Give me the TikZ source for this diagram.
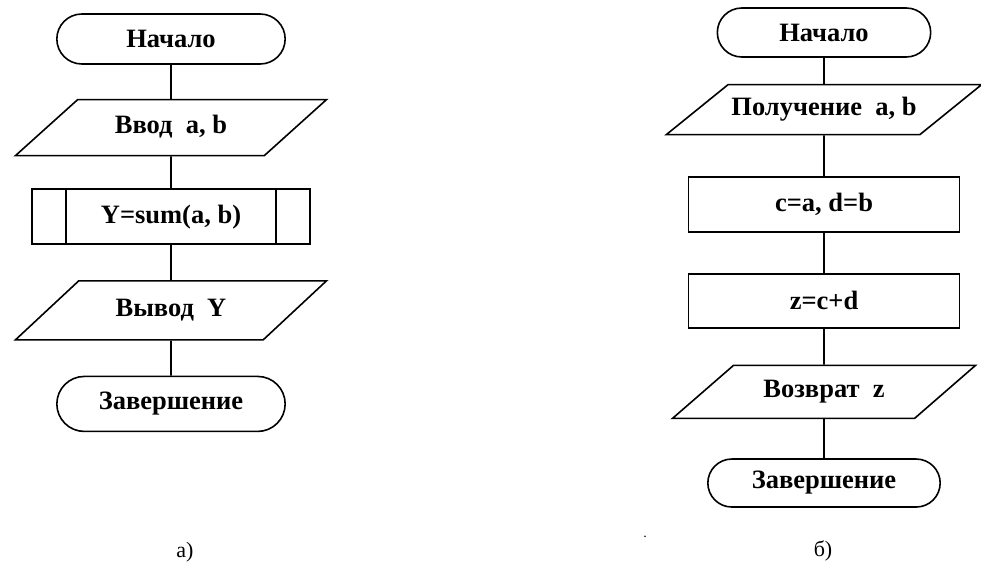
\documentclass[tikz,border=0pt]{standalone}
\usepackage{fontspec}
\setmainfont{Liberation Serif}[BoldFont={Liberation Serif Bold}]
\usetikzlibrary{positioning, shapes.geometric, shapes.misc}

\begin{document}
\begin{tikzpicture}[
  x=1pt, y=1pt, line width=1.6pt,
  term/.style={draw, rounded rectangle, minimum width=235pt, minimum height=50pt, font=\fontsize{26.5}{30}\selectfont\bfseries},
  io/.style={draw, trapezium, trapezium stretches body, trapezium left angle=42, trapezium right angle=138,
    text height=18pt, text depth=6pt, inner ysep=16pt, minimum width=311pt, font=\fontsize{26.5}{30}\selectfont\bfseries},
  proc/.style={draw, rectangle, minimum width=271pt, minimum height=55pt, font=\fontsize{26.5}{30}\selectfont\bfseries},
  subr/.style={proc, minimum width=278pt, path picture={
      \draw ([xshift=34pt]path picture bounding box.north west) -- ([xshift=34pt]path picture bounding box.south west);
      \draw ([xshift=-34pt]path picture bounding box.north east) -- ([xshift=-34pt]path picture bounding box.south east);}},
  lbl/.style={font=\fontsize{22}{26}\selectfont}
]
\useasboundingbox (0,0) rectangle (981,-562);

% а) main program
\node[term] (q1) at (171,-39) {Начало};
\node[io, below=34pt of q1]   (in1)  {Ввод~~a, b};
\node[subr, below=32pt of in1] (sum1) {Y=sum(a, b)};
\node[io, below=35pt of sum1, inner ysep=17.5pt, trapezium left angle=43, trapezium right angle=137] (out1) {Вывод~~Y};
\node[term, below=35pt of out1, minimum height=55pt] (end1) {Завершение};

\draw (q1)   -- (in1);
\draw (in1)  -- (sum1);
\draw (sum1) -- (out1);
\draw (out1) -- (end1);

% б) function sum
\node[term, minimum width=220pt, minimum height=49pt] (q2) at (824,-32.5) {Начало};
\node[io, below=26pt of q2, minimum width=308pt, inner ysep=13pt, trapezium left angle=39, trapezium right angle=141] (in2) {Получение~~a, b};
\node[proc, below=41pt of in2] (cd2) {c=a, d=b};
\node[proc, below=40pt of cd2, minimum height=54pt] (z2) {z=c+d};
\node[io, below=36pt of z2, minimum width=303pt, inner ysep=14.5pt, trapezium left angle=41, trapezium right angle=139] (ret2) {Возврат~~z};
\node[term, below=39pt of ret2, minimum width=239pt, minimum height=48pt] (end2) {Завершение};

\draw (q2)  -- (in2);
\draw (in2) -- (cd2);
\draw (cd2) -- (z2);
\draw (z2)  -- (ret2);
\draw (ret2) -- (end2);

\node[lbl] (la) at (185,-552) {а)};
\node[lbl] (lb) at (823,-551) {б)};
\node[font=\fontsize{14}{16}\selectfont, anchor=base] (dot) at (645,-537) {.};
\end{tikzpicture}
\end{document}
